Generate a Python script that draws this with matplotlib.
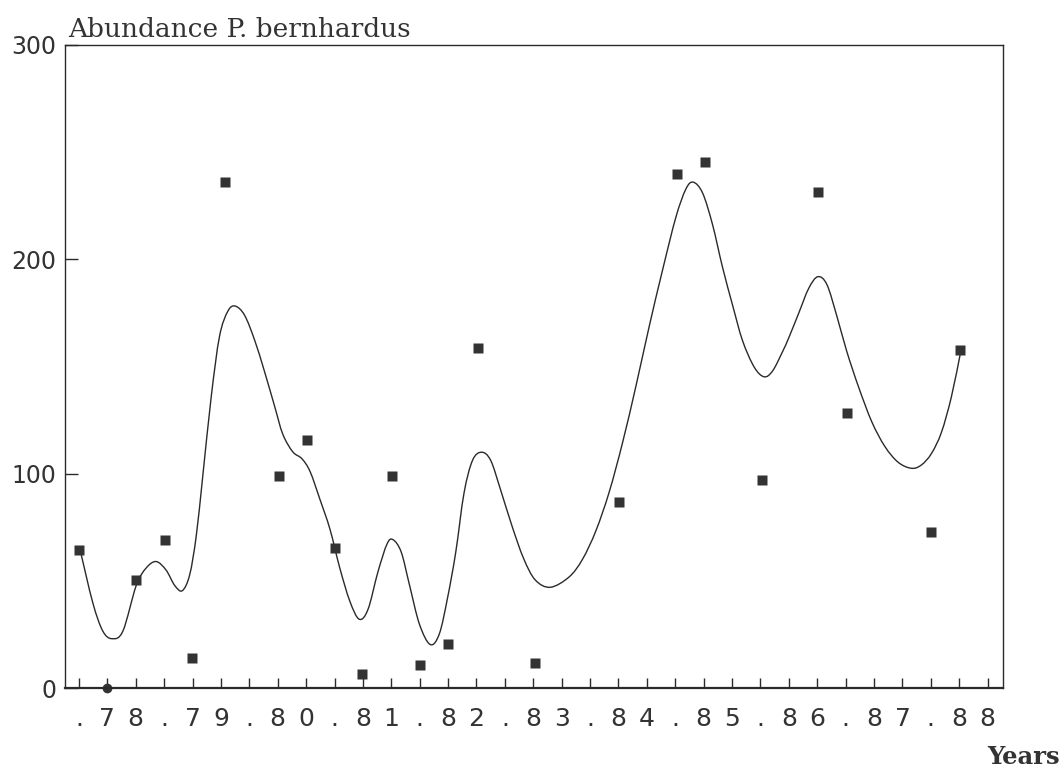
import numpy as np
import matplotlib
matplotlib.use("Agg")
import matplotlib.pyplot as plt
from matplotlib.path import Path
from matplotlib.patches import PathPatch

# x is measured in tick steps (3 ticks per year, first tick = start of '78)
years = ['78', '79', '80', '81', '82', '83', '84', '85', '86', '87', '88']

# observed abundances (squares)
obs_x = [0.02, 2.02, 3.03, 3.99, 5.15, 7.04, 8.03, 9.0, 9.97, 11.04, 12.0,
         13.0, 14.06, 16.05, 19.02, 21.05, 22.04, 24.04, 26.04, 27.05, 30.02, 31.02]
obs_y = [64.6, 50.3, 69.2, 14, 236, 99, 115.5, 65.3, 6.5, 99, 10.5,
         20.5, 158.5, 11.5, 87, 240, 245.5, 97, 231.4, 128.5, 73, 157.5]
# the one zero observation is drawn as a round dot on the axis
zero_x = [1.0]
zero_y = [0]

# smoothed curve
fit_x = [0.05, 0.49, 0.84, 1.17, 1.55, 2.02, 2.37, 2.72, 3.07, 3.37, 3.64, 3.9,
         4.13, 4.36, 4.66, 4.95, 5.24, 5.5, 5.83, 6.18, 6.53, 6.89, 7.18, 7.53,
         7.85, 8.14, 8.49, 8.84, 9.19, 9.54, 9.87, 10.18, 10.53, 10.85, 11.06,
         11.35, 11.64, 11.99, 12.37, 12.69, 12.98, 13.27, 13.56, 13.86, 14.18,
         14.5, 14.85, 15.25, 15.66, 16.07, 16.6, 17.26, 17.73, 18.2, 18.67,
         19.14, 19.61, 20.08, 20.55, 21.02, 21.37, 21.63, 21.96, 22.31, 22.66,
         23.02, 23.37, 23.78, 24.13, 24.43, 24.78, 25.0, 25.35, 25.7, 26.02,
         26.34, 26.69, 27.04, 27.45, 27.92, 28.38, 28.85, 29.32, 29.67, 30.02,
         30.37, 30.72, 31.04]
fit_y = [64, 39.7, 26.6, 23, 26.6, 47.9, 56, 59, 55, 47.9, 45.4, 52.8,
         70.8, 98.7, 136, 164, 175.7, 178.2, 174, 162.6, 147.9, 131.5, 118.4, 110.2,
         107, 101, 87.9, 74.1, 55.8, 40.5, 32.1, 36.7, 54.2, 67.2, 69.2,
         63.4, 48.1, 29.8, 20.3, 25.2, 42, 63.4, 90.9, 106.2, 110,
         106.2, 92.4, 75.6, 60.4, 50.4, 47, 51.8, 60, 73.2, 91.3,
         114.3, 140.6, 168.6, 194.9, 219.6, 232.7, 236, 231, 216.3, 196.5,
         178.5, 162, 149.7, 145.2, 148, 157, 163.5, 175, 186.5, 191.9,
         188.2, 173.5, 157, 140.6, 124.2, 112.7, 105.3, 102.5, 104.1, 109.4,
         119.2, 135.7, 156.2]

tick_chars = []
for yr in years:
    tick_chars += ['.', yr[0], yr[1]]

ink = '#2a2a2a'

fig = plt.figure(figsize=(10.64, 7.67), dpi=100)
ax = fig.add_axes([65/1064, 1-688/767, (1003-65)/1064, (688-45)/767])

# draw the curve through the read points as a smooth bezier path
pts = np.column_stack([fit_x, fit_y])
verts = [pts[0]]
codes = [Path.MOVETO]
n = len(pts)
for i in range(n - 1):
    p0 = pts[max(i - 1, 0)]
    p1 = pts[i]
    p2 = pts[i + 1]
    p3 = pts[min(i + 2, n - 1)]
    verts += [p1 + (p2 - p0) / 6, p2 - (p3 - p1) / 6, p2]
    codes += [Path.CURVE4] * 3
ax.add_patch(PathPatch(Path(verts, codes), fill=False, edgecolor=ink, lw=1.0))

ax.plot(obs_x, obs_y, 's', color='#333333', ms=7, mec='none')
ax.plot(zero_x, zero_y, 'o', color='#333333', ms=7, mec='none', clip_on=False)

ax.set_xlim(-0.49, 32.54)
ax.set_ylim(0, 300)

ax.set_xticks(range(len(tick_chars)))
ax.set_xticklabels(tick_chars)
ax.set_yticks([0, 100, 200, 300])
ax.set_yticklabels(['0', '100', '200', '300'])

ax.tick_params(axis='x', direction='in', length=7, width=1, color=ink,
               labelsize=18, pad=14, labelcolor='#333333')
ax.tick_params(axis='y', direction='in', length=9, width=1, color=ink,
               labelsize=17, pad=6, labelcolor='#333333')
for s in ax.spines.values():
    s.set_color(ink)
    s.set_linewidth(1.0)
ax.spines['bottom'].set_linewidth(1.6)

fig.text(68/1064, 1-37/767, 'Abundance P. bernhardus', family='DejaVu Serif',
         fontsize=19, color='#333333', va='baseline', ha='left')
fig.text(1060/1064, 1-764/767, 'Years', family='DejaVu Serif', weight='bold',
         fontsize=17.5, color='#333333', va='baseline', ha='right')

fig.savefig('out.png', dpi=100)
